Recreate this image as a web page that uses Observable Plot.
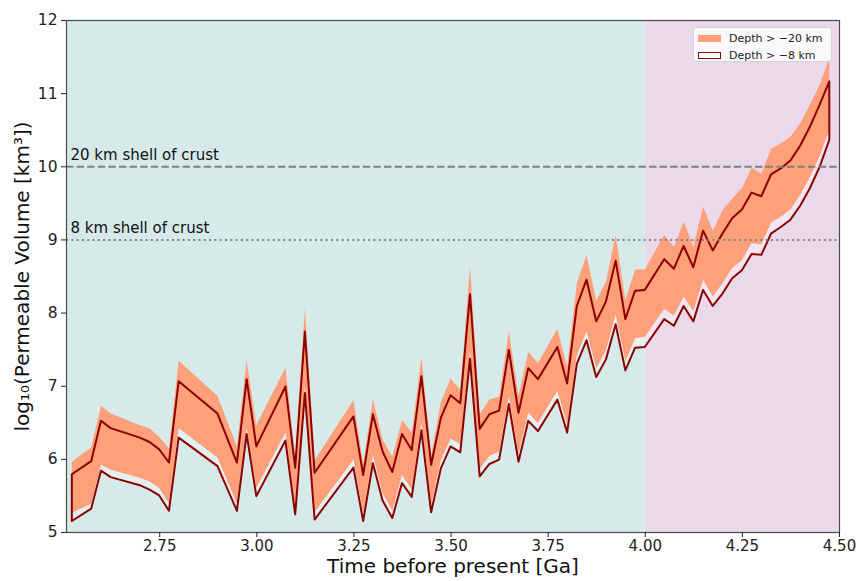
<!DOCTYPE html>
<html>
<head>
<meta charset="utf-8">
<script src="https://cdn.jsdelivr.net/npm/d3@7"></script>
<script src="https://cdn.jsdelivr.net/npm/@observablehq/plot@0.6"></script>
<style>
  html, body { margin: 0; padding: 0; background: #fff; }
  #wrap { position: relative; width: 857px; height: 581px; font-family: "DejaVu Sans", sans-serif; }
  #legend { position: absolute; left: 693px; top: 27px; width: 139px; height: 35px;
    background: rgba(255,255,255,0.85); border: 1px solid #d4d4d4; border-radius: 3px; box-sizing: border-box;
    font-size: 11px; color: #222; }
  .row { position: absolute; left: 4px; height: 12px; display: flex; align-items: center; white-space: nowrap; }
  .patch { width: 23px; height: 7px; margin-right: 8px; box-sizing: border-box; }
</style>
</head>
<body>
<div id="wrap"></div>
<script>
// ---- data ----
const time = [2.525, 2.575, 2.6, 2.625, 2.7, 2.725, 2.75, 2.775, 2.8, 2.9, 2.95, 2.975, 3.0, 3.075, 3.1, 3.125, 3.15, 3.25, 3.275, 3.3, 3.325, 3.35, 3.375, 3.4, 3.425, 3.45, 3.475, 3.5, 3.525, 3.55, 3.575, 3.6, 3.625, 3.65, 3.675, 3.7, 3.725, 3.775, 3.8, 3.825, 3.85, 3.875, 3.9, 3.925, 3.95, 3.975, 4.0, 4.05, 4.075, 4.1, 4.125, 4.15, 4.175, 4.2, 4.225, 4.25, 4.275, 4.3, 4.325, 4.35, 4.375, 4.4, 4.425, 4.45, 4.475];
// Depth > -20 km band (upper / lower)
const hi20 = [5.96, 6.16, 6.73, 6.62, 6.46, 6.42, 6.30, 6.14, 7.34, 6.86, 6.17, 7.34, 6.46, 7.25, 6.03, 8.06, 5.98, 6.80, 5.93, 6.82, 6.26, 6.03, 6.53, 6.36, 7.39, 6.05, 6.78, 7.10, 6.94, 8.63, 6.61, 6.81, 6.85, 7.75, 6.86, 7.46, 7.31, 7.78, 7.26, 8.40, 8.79, 8.16, 8.42, 9.06, 8.17, 8.59, 8.59, 9.06, 8.90, 9.24, 8.90, 9.45, 9.12, 9.40, 9.56, 9.70, 9.98, 9.90, 10.24, 10.31, 10.40, 10.59, 10.84, 11.11, 11.48];
const lo20 = [5.26, 5.39, 5.92, 5.85, 5.74, 5.69, 5.60, 5.39, 6.42, 6.02, 5.39, 6.43, 5.60, 6.36, 5.34, 7.00, 5.27, 5.99, 5.25, 6.05, 5.53, 5.29, 5.78, 5.58, 6.50, 5.37, 5.98, 6.28, 6.20, 7.47, 5.86, 6.04, 6.10, 6.86, 6.07, 6.63, 6.49, 6.93, 6.47, 7.42, 7.74, 7.24, 7.48, 7.97, 7.33, 7.65, 7.67, 8.05, 7.96, 8.22, 8.02, 8.45, 8.22, 8.40, 8.61, 8.72, 8.95, 8.93, 9.23, 9.31, 9.41, 9.61, 9.85, 10.14, 10.50];
// Depth > -8 km band (upper / lower)
const hi8 = [5.79, 5.97, 6.52, 6.42, 6.29, 6.23, 6.13, 5.95, 7.06, 6.62, 5.95, 7.09, 6.17, 6.99, 5.88, 7.74, 5.81, 6.58, 5.78, 6.61, 6.10, 5.82, 6.34, 6.12, 7.13, 5.92, 6.56, 6.87, 6.76, 8.25, 6.41, 6.61, 6.66, 7.49, 6.63, 7.24, 7.09, 7.53, 7.03, 8.09, 8.45, 7.88, 8.15, 8.71, 7.91, 8.30, 8.31, 8.73, 8.60, 8.91, 8.62, 9.12, 8.85, 9.08, 9.29, 9.41, 9.64, 9.59, 9.89, 9.97, 10.08, 10.28, 10.54, 10.84, 11.16];
const lo8 = [5.15, 5.32, 5.84, 5.75, 5.64, 5.58, 5.50, 5.29, 6.29, 5.90, 5.29, 6.34, 5.49, 6.25, 5.24, 6.90, 5.17, 5.88, 5.15, 5.94, 5.43, 5.19, 5.67, 5.48, 6.39, 5.27, 5.87, 6.17, 6.09, 7.37, 5.76, 5.93, 5.99, 6.75, 5.96, 6.52, 6.38, 6.81, 6.36, 7.30, 7.62, 7.12, 7.36, 7.84, 7.21, 7.52, 7.53, 7.91, 7.82, 8.09, 7.88, 8.31, 8.09, 8.26, 8.47, 8.58, 8.80, 8.79, 9.08, 9.17, 9.27, 9.46, 9.70, 9.99, 10.36];

const xDomain = [2.51, 4.5];
const yDomain = [5, 12];
const xTicks = [2.75, 3.0, 3.25, 3.5, 3.75, 4.0, 4.25, 4.5];
const yTicks = [5, 6, 7, 8, 9, 10, 11, 12];
const periodStart = [2.51, 4.0];
const periodEnd = [4.0, 4.5];
const periodColor = ["#d6eaea", "#ead8eb"];
const shellDepth = [10, 9];
const shellLabel = ["20 km shell of crust", "8 km shell of crust"];
const shellDash = ["7.4,3.2", "2,3.3"];
const seriesNames = ["Depth > \u221220 km", "Depth > \u22128 km"];
const xLabel = "Time before present [Ga]";
const yLabel = "log\u2081\u2080(Permeable Volume [km\u00b3])";

// ---- tables ----
const rows = time.map((t, i) => ({t, hi20: hi20[i], lo20: lo20[i], hi8: hi8[i], lo8: lo8[i]}));
const periods = periodStart.map((s, i) => ({s, e: periodEnd[i], c: periodColor[i]}));
const shells = shellDepth.map((y, i) => ({y, label: shellLabel[i], dash: shellDash[i]}));

const ORANGE = "#FFA07A";
const DARKRED = "#8B0000";

const chart = Plot.plot({
  width: 857,
  height: 581,
  marginLeft: 66,
  marginRight: 18,
  marginTop: 20,
  marginBottom: 49,
  style: {fontFamily: "'DejaVu Sans', sans-serif", color: "#222", background: "transparent"},
  x: {domain: xDomain},
  y: {domain: yDomain},
  marks: [
    Plot.rect(periods, {x1: "s", x2: "e", fill: "c"}),
    Plot.areaY(rows, {x: "t", y1: "lo8", y2: "hi8", fill: "white", fillOpacity: 0.35}),
    Plot.areaY(rows, {x: "t", y1: "lo20", y2: "hi20", fill: ORANGE}),
    Plot.areaY(rows, {x: "t", y1: "lo8", y2: "hi8", fill: "none", stroke: DARKRED, strokeWidth: 2}),
    ...shells.map(s => Plot.ruleY([s.y], {stroke: "#808080", strokeWidth: 2, strokeDasharray: s.dash})),
    Plot.text(shells, {y: "y", text: "label", frameAnchor: "left", textAnchor: "start", dx: 4, dy: -12, fontSize: 15, fill: "#111"}),
    Plot.frame({stroke: "#4a4a4a", strokeWidth: 1.2}),
    Plot.axisX({ticks: xTicks, tickFormat: d3.format(".2f"), tickSize: 5, tickPadding: 3, fontSize: 15, label: null}),
    Plot.axisY({ticks: yTicks, tickFormat: d3.format("d"), tickSize: 5, tickPadding: 4, fontSize: 15.5, label: null}),
    Plot.text([xLabel], {frameAnchor: "bottom", dy: 40, fontSize: 20, fill: "#111"}),
    Plot.text([yLabel], {frameAnchor: "left", textAnchor: "middle", dx: -44, rotate: -90, fontSize: 20, fill: "#111"})
  ]
});

const wrap = document.getElementById("wrap");
wrap.appendChild(chart);

const legend = document.createElement("div");
legend.id = "legend";
legend.innerHTML =
  `<div class="row" style="top:4px"><div class="patch" style="background:${ORANGE}"></div>${seriesNames[0]}</div>` +
  `<div class="row" style="top:21px"><div class="patch" style="background:#fff;border:1.5px solid ${DARKRED}"></div>${seriesNames[1]}</div>`;
wrap.appendChild(legend);
</script>
</body>
</html>
